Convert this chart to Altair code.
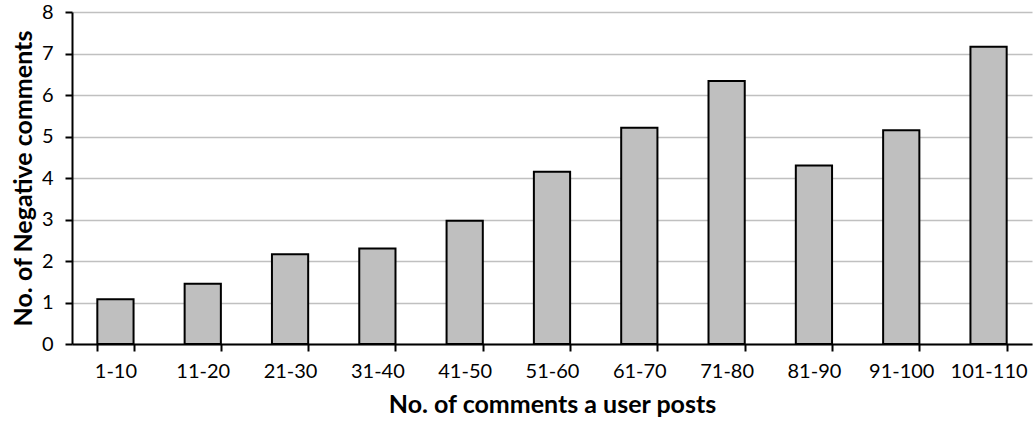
import altair as alt
import pandas as pd

# Comment-count buckets and average negative comments per user
buckets = ["1-10", "11-20", "21-30", "31-40", "41-50", "51-60",
           "61-70", "71-80", "81-90", "91-100", "101-110"]
negative = [1.08, 1.45, 2.16, 2.30, 2.97, 4.15, 5.21, 6.34, 4.30, 5.15, 7.16]

df = pd.DataFrame({"bucket": buckets, "negative": negative})

FONT = "Lato"

bars = alt.Chart(df).mark_bar(
    fill="#bfbfbf", stroke="#000000", strokeWidth=2
).encode(
    x=alt.X(
        "bucket:N",
        sort=buckets,
        scale=alt.Scale(paddingInner=0.585, paddingOuter=0.29),
        axis=alt.Axis(
            title="No. of comments a user posts",
            labelAngle=0,
            tickBand="extent",
            tickSize=7,
            tickWidth=2,
            tickColor="#000000",
            domainColor="#000000",
            domainWidth=2,
            labelFont=FONT,
            labelFontSize=20,
            labelPadding=10,
            labelColor="#000000",
            titleFont=FONT,
            titleFontSize=25,
            titleFontWeight="bold",
            titleColor="#000000",
            titlePadding=11,
            grid=False,
        ),
    ),
    y=alt.Y(
        "negative:Q",
        scale=alt.Scale(domain=[0, 8], nice=False),
        axis=alt.Axis(
            title="No. of Negative comments",
            values=list(range(0, 9)),
            tickSize=7,
            tickWidth=2,
            tickColor="#000000",
            domainColor="#000000",
            domainWidth=2,
            labelFont=FONT,
            labelFontSize=20,
            labelPadding=12,
            labelColor="#000000",
            titleFont=FONT,
            titleFontSize=25,
            titleFontWeight="bold",
            titleColor="#000000",
            titlePadding=5,
            gridColor="#c0c0c0",
            gridWidth=1.5,
        ),
    ),
)

chart = bars.properties(
    width=960,
    height=332,
    autosize=alt.AutoSizeParams(type="none"),
    padding={"left": 72, "top": 12, "right": 2, "bottom": 82},
    background="#ffffff",
).configure_view(
    stroke=None
)

chart.save("out.html", embed_options={"renderer": "svg", "actions": False})
